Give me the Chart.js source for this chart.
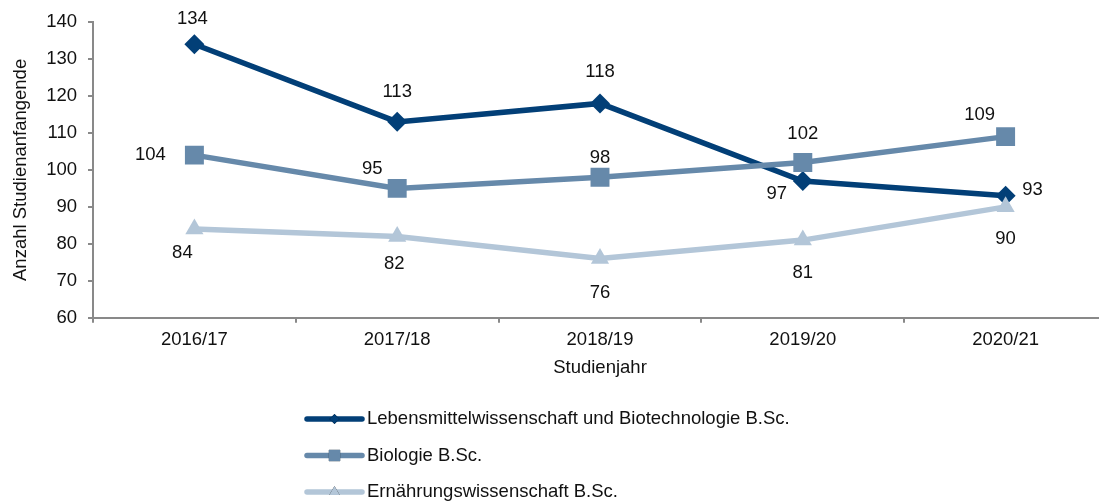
<!DOCTYPE html>
<html lang="de">
<head>
<meta charset="utf-8">
<title>Studienanfangende</title>
<script src="https://cdn.jsdelivr.net/npm/chart.js@4/dist/chart.umd.min.js"></script>
<style>
  html, body { margin: 0; padding: 0; background: #fff; overflow: hidden; }
  #chart { display: block; }
</style>
</head>
<body>
<canvas id="chart" width="1107" height="502"></canvas>
<script>
// Studienjahre und Anfängerzahlen je Studiengang
const categories = ['2016/17', '2017/18', '2018/19', '2019/20', '2020/21'];
const lebensmittel = [134, 113, 118, 97, 93];
const biologie = [104, 95, 98, 102, 109];
const ernaehrung = [84, 82, 76, 81, 90];
const seriesNames = [
    'Lebensmittelwissenschaft und Biotechnologie B.Sc.',
    'Biologie B.Sc.',
    'Ernährungswissenschaft B.Sc.'
];
const yMin = 60;
const yMax = 140;
const yStep = 10;

const colors = ['#023f77', '#6689aa', '#b3c6d8'];
const FONT = "'Liberation Sans', Arial, sans-serif";
const FONT_SIZE = 18.5;

// Verschiebung der Wertebeschriftungen gegenüber dem Punkt (dx, dy)
const labelOffsets = [
    [[-2, -25], [0, -30], [0, -31], [-26, 13], [27, -6]],
    [[-44, 0], [-25, -19], [0, -19], [0, -29], [-26, -22]],
    [[-12, 24], [-3, 27], [0, 34], [0, 33], [0, 32]]
];

const valueLabels = {
    id: 'valueLabels',
    afterDatasetsDraw(chart) {
        const ctx = chart.ctx;
        ctx.save();
        ctx.font = FONT_SIZE + 'px ' + FONT;
        ctx.fillStyle = '#111';
        ctx.textAlign = 'center';
        ctx.textBaseline = 'middle';
        chart.data.datasets.forEach((ds, i) => {
            const meta = chart.getDatasetMeta(i);
            meta.data.forEach((pt, j) => {
                const off = labelOffsets[i][j];
                ctx.fillText(String(ds.data[j]), pt.x + off[0], pt.y + off[1]);
            });
        });
        ctx.restore();
    }
};

// Legende untereinander: Linie mit Marker, daneben der Name
const lineLegend = {
    id: 'lineLegend',
    afterDraw(chart) {
        const ctx = chart.ctx;
        const left = 307, top = 419, gap = 36.5, len = 55;
        const markerSize = [5, 8, 6];
        ctx.save();
        chart.data.datasets.forEach((ds, i) => {
            const y = top + i * gap;
            ctx.strokeStyle = ds.borderColor;
            ctx.lineWidth = 5.5;
            ctx.lineCap = 'round';
            ctx.beginPath();
            ctx.moveTo(left, y);
            ctx.lineTo(left + len, y);
            ctx.stroke();
            Chart.helpers.drawPoint(ctx, {
                pointStyle: ds.pointStyle,
                radius: markerSize[i],
                borderWidth: 0,
                rotation: 0
            }, left + len / 2, y);
            ctx.fillStyle = ds.borderColor;
            ctx.fill();
            ctx.fillStyle = '#111';
            ctx.font = FONT_SIZE + 'px ' + FONT;
            ctx.textAlign = 'left';
            ctx.textBaseline = 'middle';
            ctx.fillText(ds.label, left + len + 5, y);
        });
        ctx.restore();
    }
};

function series(label, data, color, style, radius, order) {
    return {
        label: label,
        data: data,
        borderColor: color,
        backgroundColor: color,
        borderWidth: 5.5,
        pointStyle: style,
        pointRadius: radius,
        pointBackgroundColor: color,
        pointBorderWidth: 0,
        tension: 0,
        order: order
    };
}

new Chart(document.getElementById('chart'), {
    type: 'line',
    data: {
        labels: categories,
        datasets: [
            series(seriesNames[0], lebensmittel, colors[0], 'rectRot', 10, 2),
            series(seriesNames[1], biologie, colors[1], 'rect', 13.4, 1),
            series(seriesNames[2], ernaehrung, colors[2], 'triangle', 10.5, 0)
        ]
    },
    options: {
        responsive: false,
        animation: false,
        events: [],
        layout: {
            autoPadding: false,
            padding: { top: 19, right: 0, bottom: 122.9, left: 0 }
        },
        plugins: {
            legend: { display: false },
            tooltip: { enabled: false }
        },
        scales: {
            x: {
                offset: true,
                afterFit(scale) { scale.height = 61.4; },
                grid: {
                    offset: true,
                    drawOnChartArea: false,
                    drawTicks: true,
                    tickLength: 5,
                    color: '#898989',
                    lineWidth: 2
                },
                border: { display: true, color: '#898989', width: 2 },
                ticks: {
                    color: '#111',
                    padding: 6,
                    font: { family: FONT, size: FONT_SIZE },
                    maxRotation: 0
                },
                title: {
                    display: true,
                    text: 'Studienjahr',
                    color: '#111',
                    font: { family: FONT, size: FONT_SIZE },
                    padding: { top: 7, bottom: 0 }
                }
            },
            y: {
                min: yMin,
                max: yMax,
                afterFit(scale) { scale.width = 93; },
                grid: {
                    drawOnChartArea: false,
                    drawTicks: true,
                    tickLength: 5,
                    color: '#898989',
                    lineWidth: 2
                },
                border: { display: true, color: '#898989', width: 2 },
                ticks: {
                    stepSize: yStep,
                    color: '#111',
                    padding: 11,
                    font: { family: FONT, size: FONT_SIZE }
                },
                title: {
                    display: true,
                    text: 'Anzahl Studienanfangende',
                    color: '#111',
                    font: { family: FONT, size: FONT_SIZE },
                    padding: { top: 10, bottom: 0 }
                }
            }
        }
    },
    plugins: [valueLabels, lineLegend]
});
</script>
</body>
</html>
